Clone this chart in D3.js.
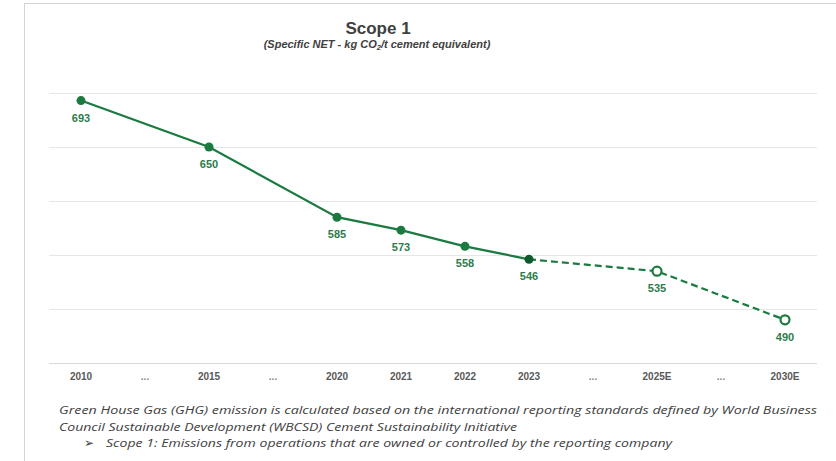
<!DOCTYPE html>
<html lang="en">
<head>
    <meta charset="UTF-8">
    <title>Scope 1</title>
    <script src="https://cdn.jsdelivr.net/npm/d3@7/dist/d3.min.js"></script>
    <style>
        body { margin: 0; background: #fff; }
    </style>
</head>
<body>
<script type="text/javascript">
    // data
    var categories = ['2010', '...', '2015', '...', '2020', '2021', '2022', '2023', '...', '2025E', '...', '2030E'];
    var actualYears = ['2010', '2015', '2020', '2021', '2022', '2023'];
    var actualValues = [693, 650, 585, 573, 558, 546];
    var estimateYears = ['2023', '2025E', '2030E'];
    var estimateValues = [546, 535, 490];
    var yTicks = [450, 500, 550, 600, 650, 700];

    var W = 836, H = 461;
    var svg = d3.select('body').append('svg')
            .attr('width', W)
            .attr('height', H);

    // frame (left + top only)
    svg.append('path')
            .attr('d', 'M24.5,' + H + 'V3.5H' + W)
            .attr('fill', 'none')
            .attr('stroke', '#d4d4d4')
            .attr('stroke-width', 1);

    // x uses index so the "..." slots stay separate
    var x = d3.scaleBand()
            .domain(d3.range(categories.length))
            .range([49, 817]);
    var y = d3.scaleLinear()
            .domain([450, 700])
            .range([363, 93]);

    function cx(year) {
        return x(categories.indexOf(year)) + x.bandwidth() / 2;
    }

    // gridlines
    svg.append('g')
            .attr('transform', 'translate(49,0)')
            .call(d3.axisLeft(y).tickValues(yTicks).tickSize(-(817 - 49)).tickFormat(''))
            .call(function (g) {
                g.select('.domain').remove();
                g.selectAll('.tick line').attr('stroke', '#e6e6e6').attr('stroke-width', 1);
                g.selectAll('.tick').filter(function (d) { return d === 450; })
                        .select('line').attr('stroke', '#d9d9d9');
            });

    // x labels
    svg.selectAll('.xlab')
            .data(categories)
            .enter()
            .append('text')
            .attr('class', 'xlab')
            .attr('x', function (d, i) { return x(i) + x.bandwidth() / 2; })
            .attr('y', 380)
            .attr('text-anchor', 'middle')
            .attr('font-family', 'Liberation Sans, Arial, sans-serif')
            .attr('font-weight', 'bold')
            .attr('font-size', 10)
            .attr('fill', function (d) { return d === '...' ? '#8c8c8c' : '#595959'; })
            .text(function (d) { return d; });

    var green = '#1a7a40';
    var line = d3.line()
            .x(function (d) { return cx(d[0]); })
            .y(function (d) { return y(d[1]); });

    var actual = d3.zip(actualYears, actualValues);
    var estimate = d3.zip(estimateYears, estimateValues);

    svg.append('path')
            .datum(actual)
            .attr('d', line)
            .attr('fill', 'none')
            .attr('stroke', green)
            .attr('stroke-width', 2.2);

    svg.append('path')
            .datum(estimate)
            .attr('d', line)
            .attr('fill', 'none')
            .attr('stroke', green)
            .attr('stroke-width', 2.2)
            .attr('stroke-dasharray', '7,4');

    svg.selectAll('.pt')
            .data(actual)
            .enter()
            .append('circle')
            .attr('class', 'pt')
            .attr('cx', function (d) { return cx(d[0]); })
            .attr('cy', function (d) { return y(d[1]); })
            .attr('r', 4.5)
            .attr('fill', function (d) { return d[0] === '2023' ? '#0e5a2c' : green; });

    svg.selectAll('.ept')
            .data(estimate.slice(1))
            .enter()
            .append('circle')
            .attr('class', 'ept')
            .attr('cx', function (d) { return cx(d[0]); })
            .attr('cy', function (d) { return y(d[1]); })
            .attr('r', 4.5)
            .attr('fill', '#fff')
            .attr('stroke', green)
            .attr('stroke-width', 2.2);

    // value labels
    svg.selectAll('.vlab')
            .data(actual.concat(estimate.slice(1)))
            .enter()
            .append('text')
            .attr('class', 'vlab')
            .attr('x', function (d) { return cx(d[0]); })
            .attr('y', function (d) { return y(d[1]) + 21; })
            .attr('text-anchor', 'middle')
            .attr('font-family', 'Liberation Sans, Arial, sans-serif')
            .attr('font-weight', 'bold')
            .attr('font-size', 11)
            .attr('fill', '#2b7d4c')
            .text(function (d) { return d[1]; });

    // title
    svg.append('text')
            .attr('x', 378).attr('y', 34)
            .attr('text-anchor', 'middle')
            .attr('font-family', 'Liberation Sans, Arial, sans-serif')
            .attr('font-weight', 'bold')
            .attr('font-size', 17)
            .attr('fill', '#404040')
            .text('Scope 1');

    var sub = svg.append('text')
            .attr('x', 377).attr('y', 48)
            .attr('text-anchor', 'middle')
            .attr('font-family', 'Liberation Sans, Arial, sans-serif')
            .attr('font-weight', 'bold')
            .attr('font-style', 'italic')
            .attr('font-size', 11)
            .attr('fill', '#404040');
    sub.append('tspan').text('(Specific NET - kg CO');
    sub.append('tspan').attr('font-size', 7.5).attr('dy', 2).text('2');
    sub.append('tspan').attr('dy', -2).text('/t cement equivalent)');

    // footnote
    var note = svg.append('g')
            .attr('font-family', 'Open Sans, sans-serif')
            .attr('font-style', 'italic')
            .attr('font-size', 11.5)
            .attr('fill', '#404040');
    note.append('text').attr('x', 59).attr('y', 414)
            .attr('textLength', 758).attr('lengthAdjust', 'spacingAndGlyphs')
            .text('Green House Gas (GHG) emission is calculated based on the international reporting standards defined by World Business');
    note.append('text').attr('x', 59).attr('y', 431)
            .attr('textLength', 458).attr('lengthAdjust', 'spacingAndGlyphs')
            .text('Council Sustainable Development (WBCSD) Cement Sustainability Initiative');
    note.append('text').attr('x', 84).attr('y', 447)
            .attr('font-style', 'normal').attr('font-family', 'DejaVu Sans, sans-serif')
            .attr('font-size', 12)
            .text('\u27A2');
    note.append('text').attr('x', 106).attr('y', 447)
            .attr('textLength', 566).attr('lengthAdjust', 'spacingAndGlyphs')
            .text('Scope 1: Emissions from operations that are owned or controlled by the reporting company');
</script>
</body>
</html>
